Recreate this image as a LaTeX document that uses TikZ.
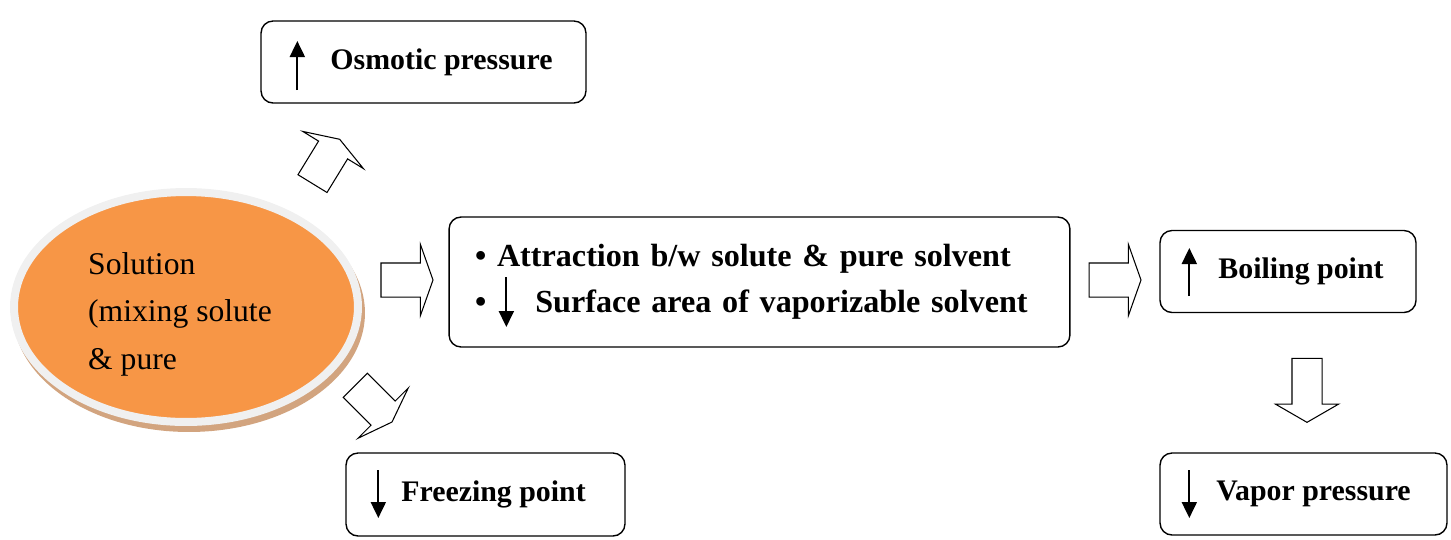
\documentclass[tikz,border=0pt]{standalone}
\usepackage{fontspec}
\setmainfont{Liberation Serif}
\usetikzlibrary{
  shapes.geometric,
  shapes.arrows,
  arrows.meta
  }
\definecolor{solorange}{HTML}{F79646}
\definecolor{ringgrey}{HTML}{F0F0F0}
\definecolor{shadowtan}{HTML}{D2A47F}
\tikzset{
  >=Latex,
  box/.style={draw, line width=0.8pt, rounded corners=0.24cm, minimum height=1.64cm,
    font=\fontsize{17}{20}\selectfont\bfseries},
  ptr/.style={-{Triangle[length=0.32cm,width=0.3cm]}, line width=1.1pt},
  blockarrow/.style={draw, line width=0.6pt, fill=white, single arrow,
    single arrow head indent=0pt, inner xsep=0pt},
  flatarrow/.style={blockarrow, inner ysep=0.33cm, single arrow head extend=0.37cm,
    single arrow tip angle=141, minimum height=1.04cm},
}

\begin{document}
\begin{tikzpicture}[x=0.02cm, y=-0.02cm]
  \useasboundingbox (0,0) rectangle (1451,539);
% =========================================================
% (A) Solution ellipse
% =========================================================
  \node[ellipse, fill=shadowtan, minimum width=7.04cm, minimum height=4.76cm] (solshadow) at (189,313) {};
  \node[ellipse, fill=solorange, draw=ringgrey, line width=0.16cm,
    minimum width=6.88cm, minimum height=4.6cm] (sol) at (186,307) {};
  \node[align=left, font=\fontsize{18}{27}\selectfont] (soltext) at (180,314)
    {Solution\\(mixing solute\\\& pure};
% =========================================================
% (B) Boxes
% =========================================================
  \node[box, minimum width=6.5cm] (osm) at (423.5,62) {\hspace*{0.72cm}Osmotic pressure};
  \node[box, minimum width=12.42cm, minimum height=2.6cm, text width=11.38cm, inner xsep=0.52cm,
    align=left, font=\fontsize{18.3}{26}\selectfont\bfseries] (mid) at (759.5,282)
    {• Attraction b/w solute \& pure solvent\\•\hspace{0.98cm}Surface area of vaporizable solvent};
  \node[box, minimum width=5.12cm] (boil) at (1288,271.5) {\hspace*{0.52cm}Boiling point};
  \node[box, minimum width=5.74cm] (vap) at (1303.5,494) {\hspace*{0.4cm}Vapor pressure};
  \node[box, minimum width=5.58cm, minimum height=1.66cm] (frz) at (485.5,494.5) {\hspace*{0.32cm}Freezing point};
  % up / down marks inside the boxes
  \draw[ptr] ([shift={(37,28)}]osm.west) -- ++(0,-49);
  \draw[ptr] ([shift={(58,-5)}]mid.west) -- ++(0,50);
  \draw[ptr] ([shift={(30,24.5)}]boil.west) -- ++(0,-48);
  \draw[ptr] ([shift={(30,-24)}]vap.west) -- ++(0,48);
  \draw[ptr] ([shift={(33,-24.5)}]frz.west) -- ++(0,48);
% =========================================================
% (C) Block arrows
% =========================================================
  \node[flatarrow] (a1) at (404,280) {};
  \node[flatarrow] (a2) at (1112,280) {};
  \node[flatarrow, rotate=58.5] (a3) at (324.5,164) {};
  \node[flatarrow, rotate=-45] (a4) at (371.5,401.5) {};
  \node[blockarrow, inner ysep=0.29cm, single arrow head extend=0.33cm,
    single arrow tip angle=120, minimum height=1.28cm, rotate=-90] (a5) at (1307,386) {};
\end{tikzpicture}
\end{document}
